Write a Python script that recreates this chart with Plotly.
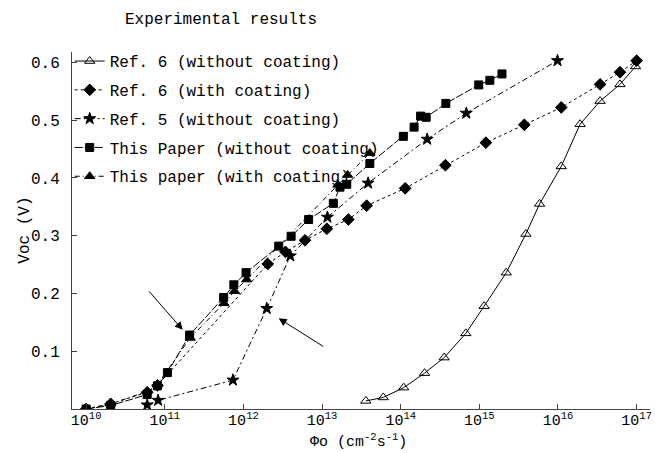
import plotly.graph_objects as go

# Ref. 6 (without coating)
ref6_wo_x = [3.6e13, 6.0e13, 1.09e14, 2.01e14, 3.57e14, 6.73e14, 1.15e15, 2.20e15,
             3.91e15, 5.83e15, 1.10e16, 1.91e16, 3.43e16, 6.14e16, 9.7e16]
ref6_wo_y = [0.014, 0.020, 0.037, 0.062, 0.089, 0.131, 0.178, 0.236,
             0.303, 0.355, 0.420, 0.493, 0.533, 0.562, 0.593]

# Ref. 6 (with coating)
ref6_w_x = [1.0e10, 2.05e10, 5.97e10, 8.07e10, 2.04e12, 3.42e12, 6.07e12, 1.15e13,
            2.16e13, 3.69e13, 1.14e14, 3.70e14, 1.21e15, 3.73e15, 1.10e16, 3.43e16,
            6.14e16, 1.0e17]
ref6_w_y = [0.0, 0.009, 0.029, 0.041, 0.251, 0.272, 0.292, 0.312,
            0.328, 0.352, 0.382, 0.422, 0.461, 0.492, 0.522, 0.562,
            0.583, 0.603]

# Ref. 5 (without coating)
ref5_x = [5.97e10, 8.22e10, 7.35e11, 1.98e12, 3.95e12, 1.17e13, 3.85e13, 2.17e14,
          6.82e14, 9.86e15]
ref5_y = [0.007, 0.015, 0.050, 0.174, 0.265, 0.332, 0.391, 0.467,
          0.512, 0.603]

# This Paper (without coating)
tp_wo_x = [1.0e10, 2.05e10, 5.97e10, 8.07e10, 1.08e11, 2.07e11, 5.60e11, 7.55e11,
           1.08e12, 2.81e12, 4.04e12, 6.75e12, 1.39e13, 1.69e13, 2.06e13, 4.05e13,
           1.08e14, 1.48e14, 1.79e14, 2.11e14, 3.75e14, 9.82e14, 1.36e15, 1.94e15]
tp_wo_y = [0.0, 0.006, 0.025, 0.040, 0.063, 0.128, 0.193, 0.215,
           0.236, 0.282, 0.299, 0.328, 0.356, 0.384, 0.389, 0.425,
           0.472, 0.488, 0.507, 0.505, 0.529, 0.561, 0.569, 0.580]

# This paper (with coating)
tp_w_x = [1.0e10, 2.05e10, 5.92e10, 8.04e10, 2.10e11, 5.65e11, 7.71e11, 1.10e12,
          1.59e13, 2.11e13, 4.05e13]
tp_w_y = [0.0, 0.009, 0.030, 0.042, 0.123, 0.183, 0.204, 0.224,
          0.388, 0.405, 0.443]

tick_vals = [1e10, 1e11, 1e12, 1e13, 1e14, 1e15, 1e16, 1e17]
tick_text = ["10<sup>10</sup>", "10<sup>11</sup>", "10<sup>12</sup>", "10<sup>13</sup>",
             "10<sup>14</sup>", "10<sup>15</sup>", "10<sup>16</sup>", "10<sup>17</sup>"]
y_ticks = [0.1, 0.2, 0.3, 0.4, 0.5, 0.6]
y_tick_text = ["0.1", "0.2", "0.3", "0.4", "0.5", "0.6"]

FONT = "Liberation Mono, Courier New, monospace"
FS = 16

series = [
    ("Ref. 6 (without coating)", ref6_wo_x, ref6_wo_y, "solid", "triangle-up-open", 9),
    ("Ref. 6 (with coating)", ref6_w_x, ref6_w_y, "dot", "diamond", 9),
    ("Ref. 5 (without coating)", ref5_x, ref5_y, "6px,3px,2px,3px", "star", 9),
    ("This Paper (without coating)", tp_wo_x, tp_wo_y, "8px,2px", "square", 8),
    ("This paper (with coating)", tp_w_x, tp_w_y, "5px,3px,1px,3px", "triangle-up", 9),
]

fig = go.Figure()
for i, (name, xs, ys, dash, sym, sz) in enumerate(series):
    fig.add_trace(go.Scatter(
        x=xs, y=ys, name=name, mode="lines+markers", legendgroup=f"g{i}",
        line=dict(color="black", width=1, dash=dash),
        marker=dict(symbol=sym, size=sz, color="black",
                    line=dict(color="black", width=1)),
    ))

fig.update_layout(
    width=655, height=453,
    margin=dict(l=72, r=3, t=52, b=44),
    paper_bgcolor="white", plot_bgcolor="white",
    font=dict(family=FONT, size=FS, color="black"),
    title=dict(text="Experimental results", x=221 / 655, xanchor="center",
               xref="container", y=1 - 18 / 453, yanchor="middle",
               font=dict(family=FONT, size=FS)),
    legend=dict(x=-0.004, y=1.022, xanchor="left", yanchor="top",
                bgcolor="rgba(0,0,0,0)", font=dict(family=FONT, size=FS),
                tracegroupgap=5, itemwidth=30),
    xaxis=dict(type="log", range=[9.82, 17.17], tickvals=tick_vals, ticktext=tick_text,
               ticks="inside", ticklen=5, tickcolor="#444", showline=True,
               linecolor="#444", linewidth=1, showgrid=False, zeroline=False,
               ticklabelstandoff=-3,
               tickfont=dict(family=FONT, size=15)),
    yaxis=dict(range=[0, 0.618], tickvals=y_ticks, ticktext=y_tick_text,
               ticks="inside", ticklen=5, tickcolor="#444", showline=True,
               linecolor="#444", linewidth=1, showgrid=False, zeroline=False,
               ticklabelstandoff=8,
               tickfont=dict(family=FONT, size=FS)),
    annotations=[
        dict(x=11.228, y=0.137, xref="x", yref="y", ax=-35, ay=-40, text="",
             showarrow=True, arrowhead=2, arrowsize=1.6, arrowwidth=1, arrowcolor="black"),
        dict(x=12.448, y=0.157, xref="x", yref="y", ax=46, ay=29, text="",
             showarrow=True, arrowhead=2, arrowsize=1.6, arrowwidth=1, arrowcolor="black"),
        dict(text="Φo (cm<sup>-2</sup>s<sup>-1</sup>)", xref="paper", yref="paper",
             x=0.495, y=-(452 - 409) / 357, xanchor="center", yanchor="bottom",
             showarrow=False, font=dict(family=FONT, size=15), borderpad=0),
        dict(text="Voc (V)", xref="paper", yref="paper", textangle=-90,
             x=-48 / 580, y=0.5, xanchor="center", yanchor="middle",
             showarrow=False, font=dict(family=FONT, size=FS)),
    ],
)

fig.write_html("out.html")
